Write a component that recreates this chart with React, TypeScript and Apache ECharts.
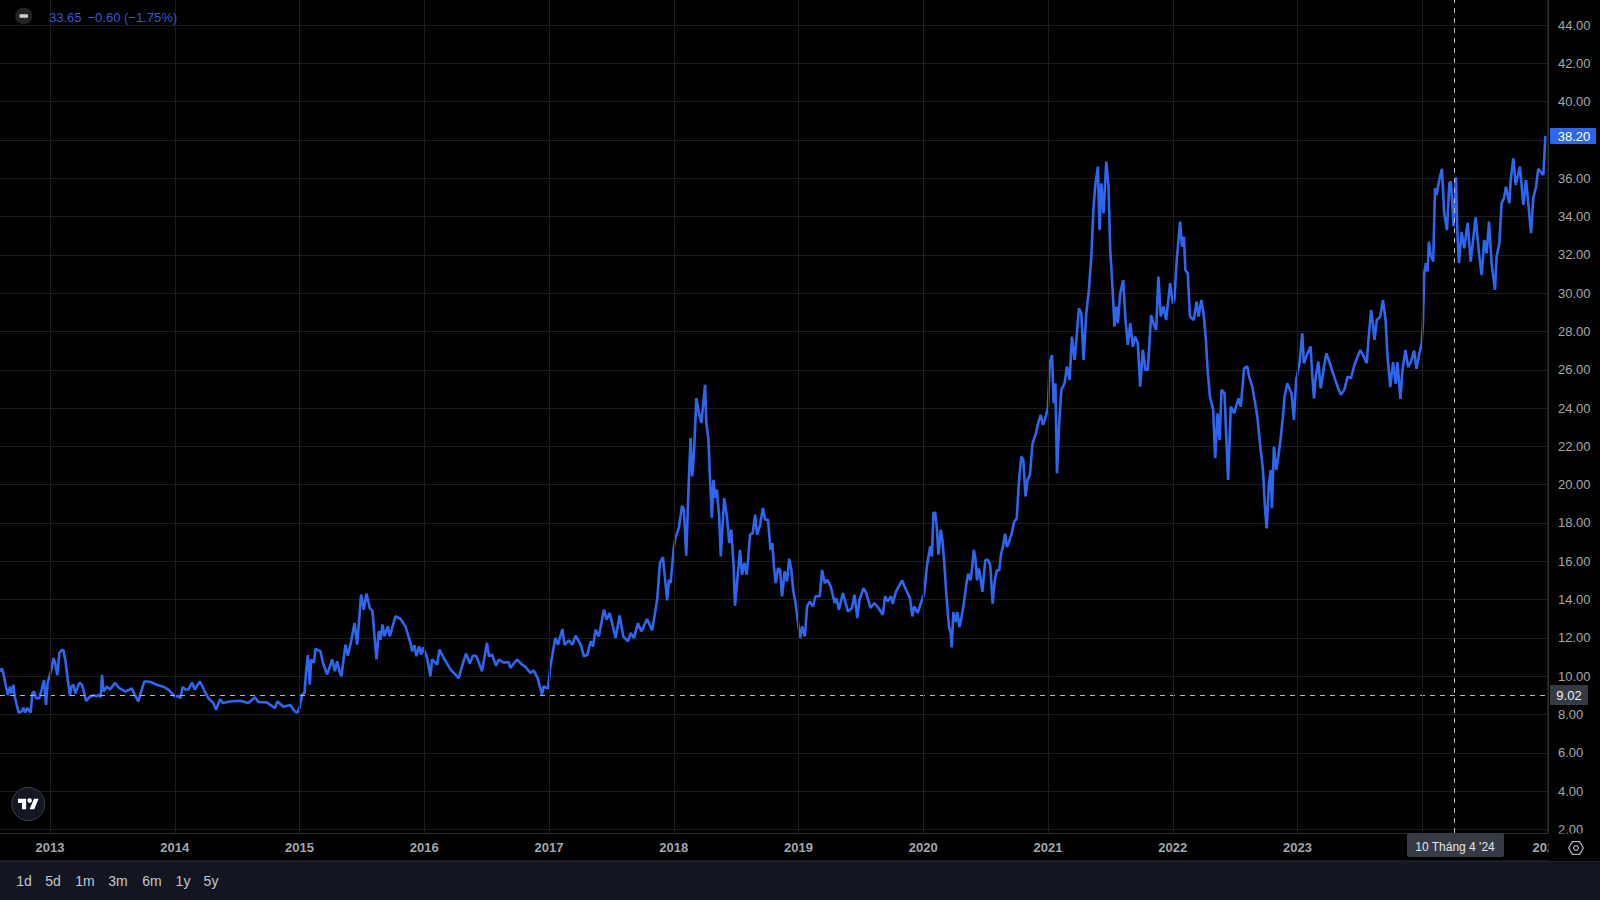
import React, { useEffect, useRef } from "react";
import * as echarts from "echarts";

type P = [number, number];

const span2012: P[] = [[2012.599,10.24],[2012.615,10.4],[2012.626,10.15],[2012.647,9.45],[2012.663,9.0],[2012.679,9.45],[2012.69,9.1],[2012.706,9.55],[2012.717,8.95],[2012.733,8.5],[2012.749,8.1],[2012.773,8.15],[2012.786,8.35],[2012.8,8.1],[2012.818,8.33],[2012.845,8.1],[2012.858,9.1],[2012.872,9.2],[2012.888,8.85],[2012.914,8.85],[2012.933,9.3],[2012.952,9.8],[2012.968,8.5],[2012.981,9.65]];
const span2013: P[] = [[2013.013,10.4],[2013.027,10.95],[2013.04,10.7],[2013.059,10.05],[2013.075,11.2],[2013.094,11.37],[2013.107,11.37],[2013.123,10.85],[2013.142,9.8],[2013.16,8.97],[2013.171,9.45],[2013.187,9.55],[2013.203,9.1],[2013.235,9.65],[2013.257,9.55],[2013.278,9.0],[2013.289,8.7],[2013.315,8.9],[2013.347,9.0],[2013.374,8.95],[2013.395,9.03],[2013.406,8.9],[2013.417,10.07],[2013.428,9.2],[2013.454,9.45],[2013.481,9.3],[2013.521,9.65],[2013.556,9.37],[2013.601,9.2],[2013.641,9.3],[2013.655,9.37],[2013.681,9.0],[2013.708,8.68],[2013.735,9.3],[2013.756,9.72],[2013.788,9.72],[2013.815,9.67],[2013.855,9.55],[2013.908,9.45],[2013.949,9.3]];
const span2014: P[] = [[2014.002,8.93],[2014.029,8.97],[2014.045,8.85],[2014.063,9.43],[2014.085,9.3],[2014.109,9.3],[2014.138,9.67],[2014.16,9.3],[2014.202,9.72],[2014.234,9.29],[2014.269,8.85],[2014.309,8.6],[2014.331,8.25],[2014.363,8.8],[2014.384,8.6],[2014.443,8.68],[2014.523,8.72],[2014.59,8.6],[2014.643,8.9],[2014.67,8.65],[2014.737,8.63],[2014.804,8.33],[2014.822,8.68],[2014.87,8.4],[2014.924,8.5],[2014.964,8.15],[2014.983,8.1]];
const span2015: P[] = [[2015.0,8.35],[2015.021,9.04],[2015.04,9.13],[2015.053,10.26],[2015.067,11.1],[2015.083,9.55],[2015.093,10.87],[2015.115,10.7],[2015.128,11.42],[2015.168,11.3],[2015.187,10.7],[2015.222,10.08],[2015.262,10.87],[2015.283,10.26],[2015.302,10.78],[2015.32,10.26],[2015.336,10.0],[2015.368,11.65],[2015.387,11.07],[2015.414,11.82],[2015.441,12.78],[2015.462,11.65],[2015.494,14.26],[2015.515,13.47],[2015.537,14.3],[2015.563,13.56],[2015.585,13.4],[2015.601,12.09],[2015.617,10.87],[2015.636,12.35],[2015.649,11.9],[2015.665,12.7],[2015.681,12.08],[2015.708,12.6],[2015.724,12.08],[2015.769,13.13],[2015.809,13.0],[2015.849,12.6],[2015.889,11.74],[2015.903,11.3],[2015.921,11.62],[2015.937,11.04],[2015.959,11.56],[2015.975,11.13],[2015.991,11.5]];
const span2016: P[] = [[2016.023,10.95],[2016.049,10.0],[2016.063,10.87],[2016.103,10.6],[2016.122,11.39],[2016.156,10.95],[2016.21,10.35],[2016.25,10.08],[2016.276,9.9],[2016.311,10.7],[2016.335,11.18],[2016.365,10.66],[2016.391,11.08],[2016.418,11.04],[2016.463,10.26],[2016.503,11.74],[2016.519,11.04],[2016.543,11.13],[2016.575,10.55],[2016.597,10.87],[2016.637,10.7],[2016.677,10.74],[2016.69,10.43],[2016.744,10.87],[2016.784,10.6],[2016.81,10.5],[2016.85,10.17],[2016.877,10.3],[2016.909,9.9],[2016.944,9.04],[2016.957,9.47],[2016.992,9.35]];
const span2017: P[] = [[2017.011,10.52],[2017.051,12.0],[2017.072,11.65],[2017.091,12.09],[2017.107,12.46],[2017.125,11.64],[2017.16,11.87],[2017.187,11.64],[2017.213,12.11],[2017.254,11.64],[2017.28,11.03],[2017.307,11.12],[2017.334,11.82],[2017.352,11.55],[2017.374,12.42],[2017.4,12.08],[2017.44,13.47],[2017.462,12.95],[2017.486,13.3],[2017.534,11.99],[2017.566,13.17],[2017.595,12.08],[2017.633,11.82],[2017.654,12.25],[2017.681,11.99],[2017.713,12.77],[2017.739,12.34],[2017.787,12.98],[2017.827,12.39],[2017.867,13.99],[2017.889,15.91],[2017.913,16.22],[2017.947,13.96],[2017.961,15.03],[2017.974,14.86]];
const span2018: P[] = [[2018.0,16.69],[2018.013,17.21],[2018.04,17.73],[2018.067,18.9],[2018.081,18.69],[2018.1,16.29],[2018.121,20.26],[2018.135,22.43],[2018.148,20.43],[2018.162,21.65],[2018.181,24.52],[2018.202,23.74],[2018.221,23.22],[2018.237,24.26],[2018.251,25.22],[2018.261,23.22],[2018.278,22.35],[2018.288,20.78],[2018.305,18.26],[2018.318,20.26],[2018.332,19.3],[2018.345,19.74],[2018.364,18.34],[2018.377,16.25],[2018.404,19.3],[2018.426,18.34],[2018.445,16.95],[2018.461,17.65],[2018.48,15.73],[2018.491,13.68],[2018.507,14.86],[2018.531,16.6],[2018.547,15.3],[2018.566,15.91],[2018.585,15.3],[2018.612,17.39],[2018.633,17.47],[2018.652,18.43],[2018.668,17.39],[2018.693,17.91],[2018.714,18.78],[2018.733,18.17],[2018.755,18.17],[2018.776,16.6],[2018.79,16.95],[2018.803,15.73],[2018.817,14.86],[2018.836,15.64],[2018.852,15.55],[2018.868,14.17],[2018.889,15.47],[2018.908,14.95],[2018.925,16.13],[2018.943,15.55],[2018.957,14.51],[2018.976,13.82],[2018.997,12.77]];
const span2019: P[] = [[2019.013,11.99],[2019.029,12.6],[2019.051,12.08],[2019.069,13.64],[2019.09,13.9],[2019.117,13.64],[2019.136,14.17],[2019.17,14.17],[2019.189,15.55],[2019.21,14.86],[2019.231,15.03],[2019.258,14.69],[2019.29,13.82],[2019.303,14.08],[2019.324,13.47],[2019.356,14.34],[2019.396,13.38],[2019.428,13.56],[2019.449,14.25],[2019.471,13.03],[2019.489,13.99],[2019.521,14.6],[2019.543,14.34],[2019.577,13.56],[2019.609,13.82],[2019.641,13.56],[2019.676,13.21],[2019.694,14.17],[2019.715,13.9],[2019.742,14.17],[2019.755,13.77],[2019.782,14.43],[2019.83,15.0],[2019.862,14.51],[2019.894,14.08],[2019.912,13.12],[2019.928,13.64],[2019.955,13.3],[2019.981,13.82]];
const span2020: P[] = [[2020.008,14.34],[2020.029,15.73],[2020.056,16.78],[2020.069,16.25],[2020.082,18.52],[2020.095,18.55],[2020.108,17.82],[2020.122,16.34],[2020.14,17.65],[2020.153,17.12],[2020.167,16.08],[2020.188,13.99],[2020.206,12.6],[2020.22,12.25],[2020.228,11.5],[2020.241,13.35],[2020.259,12.83],[2020.272,13.35],[2020.291,12.57],[2020.307,13.09],[2020.325,13.79],[2020.346,14.83],[2020.36,15.35],[2020.378,15.0],[2020.391,15.6],[2020.405,16.6],[2020.418,16.14],[2020.431,15.0],[2020.445,15.62],[2020.458,15.18],[2020.474,14.4],[2020.497,16.05],[2020.519,16.08],[2020.537,15.79],[2020.556,13.79],[2020.572,14.92],[2020.59,15.53],[2020.609,15.53],[2020.622,16.31],[2020.638,16.75],[2020.656,17.44],[2020.67,16.75],[2020.691,17.09],[2020.709,17.44],[2020.728,18.05],[2020.749,18.23],[2020.77,20.42],[2020.786,21.47],[2020.802,21.29],[2020.82,19.38],[2020.836,20.25],[2020.855,20.51],[2020.876,22.16],[2020.903,22.68],[2020.921,23.2],[2020.942,23.64],[2020.96,23.12],[2020.982,23.55]];
const span2021: P[] = [[2021.0,24.08],[2021.013,26.34],[2021.032,26.77],[2021.045,24.25],[2021.059,25.3],[2021.072,20.6],[2021.088,23.03],[2021.107,24.95],[2021.133,25.3],[2021.152,26.17],[2021.173,25.47],[2021.192,27.73],[2021.213,26.51],[2021.232,27.91],[2021.248,29.21],[2021.267,28.95],[2021.285,26.51],[2021.307,28.95],[2021.328,30.17],[2021.347,31.91],[2021.365,34.52],[2021.381,35.74],[2021.4,36.61],[2021.413,33.3],[2021.427,35.74],[2021.445,34.17],[2021.467,36.87],[2021.485,35.56],[2021.499,32.26],[2021.515,30.52],[2021.533,28.25],[2021.547,29.3],[2021.56,28.43],[2021.579,30.0],[2021.603,30.69],[2021.621,28.6],[2021.64,27.3],[2021.659,28.43],[2021.68,27.2],[2021.699,27.73],[2021.72,27.38],[2021.739,25.12],[2021.76,27.04],[2021.781,26.0],[2021.8,26.0],[2021.827,28.86],[2021.845,28.43],[2021.867,28.08],[2021.885,30.87],[2021.904,28.78],[2021.925,29.3],[2021.947,28.6],[2021.979,30.52]];
const span2022: P[] = [[2022.0,29.47],[2022.013,29.65],[2022.032,31.74],[2022.059,33.74],[2022.074,32.43],[2022.09,32.95],[2022.101,31.21],[2022.12,31.04],[2022.138,28.78],[2022.168,28.6],[2022.191,29.56],[2022.207,28.78],[2022.229,29.65],[2022.247,28.95],[2022.266,27.56],[2022.279,26.0],[2022.298,24.6],[2022.324,23.9],[2022.34,21.38],[2022.359,23.73],[2022.375,22.34],[2022.391,24.95],[2022.415,24.77],[2022.431,22.16],[2022.444,20.25],[2022.465,24.08],[2022.492,23.73],[2022.527,24.51],[2022.545,24.08],[2022.572,26.08],[2022.598,26.17],[2022.612,25.64],[2022.638,25.12],[2022.66,24.25],[2022.678,23.55],[2022.705,21.81],[2022.723,20.77],[2022.739,18.85],[2022.753,17.72],[2022.771,20.07],[2022.785,20.77],[2022.795,18.77],[2022.811,21.99],[2022.83,20.77],[2022.846,21.47],[2022.864,22.34],[2022.883,23.55],[2022.896,24.6],[2022.918,25.3],[2022.952,24.77],[2022.971,23.38],[2022.989,25.47]];
const span2023: P[] = [[2023.0,25.82],[2023.016,26.34],[2023.038,27.9],[2023.051,26.34],[2023.07,26.69],[2023.105,27.21],[2023.119,25.64],[2023.132,24.51],[2023.146,25.64],[2023.167,26.43],[2023.186,25.03],[2023.213,26.17],[2023.232,26.86],[2023.259,26.34],[2023.294,25.64],[2023.321,25.12],[2023.348,24.69],[2023.375,24.95],[2023.402,25.64],[2023.429,25.56],[2023.456,26.25],[2023.482,26.69],[2023.504,27.03],[2023.531,26.69],[2023.555,26.34],[2023.571,27.73],[2023.59,29.12],[2023.604,28.43],[2023.617,27.56],[2023.636,28.6],[2023.663,28.78],[2023.685,29.65],[2023.706,28.6],[2023.72,26.86],[2023.744,25.09],[2023.766,26.4],[2023.787,25.27],[2023.801,26.4],[2023.825,24.48],[2023.841,25.96],[2023.865,27.04],[2023.887,26.14],[2023.908,26.4],[2023.935,27.0],[2023.954,26.05],[2023.976,26.83],[2023.995,27.36]];
const span2024: P[] = [[2024.005,28.4],[2024.016,31.04],[2024.029,31.56],[2024.043,31.13],[2024.053,32.69],[2024.067,32.0],[2024.088,31.65],[2024.102,35.48],[2024.115,35.13],[2024.136,35.91],[2024.158,36.49],[2024.176,34.17],[2024.198,33.3],[2024.217,35.74],[2024.23,35.83],[2024.251,33.48],[2024.27,36.05],[2024.281,33.3],[2024.294,31.56],[2024.316,33.2],[2024.337,32.34],[2024.364,33.68],[2024.388,31.65],[2024.428,33.96],[2024.455,32.08],[2024.476,30.95],[2024.497,32.78],[2024.516,32.08],[2024.535,33.74],[2024.556,31.56],[2024.583,30.17],[2024.596,31.91],[2024.618,32.6],[2024.636,34.69],[2024.655,34.96],[2024.671,35.56],[2024.698,34.69],[2024.709,35.91],[2024.73,37.04],[2024.749,35.65],[2024.783,36.61],[2024.81,34.61],[2024.832,35.91],[2024.85,34.69],[2024.872,33.13],[2024.89,34.96],[2024.912,35.56],[2024.93,36.49],[2024.971,36.17],[2024.987,38.2]];

const priceSeries: P[] = [...span2012, ...span2013, ...span2014, ...span2015, ...span2016, ...span2017, ...span2018, ...span2019, ...span2020, ...span2021, ...span2022, ...span2023, ...span2024];

const yearTicks = [2013, 2014, 2015, 2016, 2017, 2018, 2019, 2020, 2021, 2022, 2023, 2024, 2025];
const yearLabels = [2013, 2014, 2015, 2016, 2017, 2018, 2019, 2020, 2021, 2022, 2023, 2025];
const priceTicks = [2, 4, 6, 8, 10, 12, 14, 16, 18, 20, 22, 24, 26, 28, 30, 32, 34, 36, 38, 40, 42, 44];
const priceLabels = [2, 4, 6, 8, 10, 12, 14, 16, 18, 20, 22, 24, 26, 28, 30, 32, 34, 36, 40, 42, 44];
const crossPrice = 9.02;
const crossYear = 2024.262;
const ranges = [["1d", 24], ["5d", 53], ["1m", 85], ["3m", 118], ["6m", 152], ["1y", 183], ["5y", 211]] as const;

const FONT = '"Liberation Sans", Arial, sans-serif';
const LOGO = "M14 22H7V11H0V4h14v18zM28 22h-8l7.5-18h8L28 22zM24 7a4 4 0 1 1-8 0a4 4 0 0 1 8 0z";

export default function App() {
  const ref = useRef<HTMLDivElement>(null);
  useEffect(() => {
    document.body.style.margin = "0";
    document.body.style.background = "#000";
    echarts.graphic.registerShape("tvlogo", echarts.graphic.extendPath(LOGO, {}) as any);
    const chart = echarts.init(ref.current!, undefined, { renderer: "svg" });
    chart.setOption({
      animation: false,
      backgroundColor: "#000000",
      grid: { left: 0, top: 0, width: 1548, height: 833, containLabel: false },
      xAxis: {
        type: "value",
        min: 2012.599,
        max: 2025.008,
        z: 200,
        axisLine: { show: true, onZero: false, lineStyle: { color: "#2e2e2e", width: 1 } },
        axisTick: { show: false, customValues: yearTicks },
        axisLabel: {
          customValues: yearLabels,
          formatter: (v: number) => String(v),
          color: "#a3a6ad",
          fontFamily: FONT,
          fontSize: 13,
          fontWeight: "bold",
          margin: 8,
        },
        splitLine: { show: true, lineStyle: { color: "#1c1c1c", width: 1 } },
      },
      yAxis: {
        type: "value",
        position: "right",
        min: 1.81,
        max: 45.31,
        axisLine: { show: true, onZero: false, lineStyle: { color: "#2e2e2e", width: 1 } },
        axisTick: { show: false, customValues: priceTicks },
        axisLabel: {
          customValues: priceLabels,
          formatter: (v: number) => v.toFixed(2),
          color: "#a8a8a8",
          fontFamily: FONT,
          fontSize: 13,
          margin: 10,
        },
        splitLine: { show: true, lineStyle: { color: "#1c1c1c", width: 1 } },
      },
      series: [
        {
          type: "line",
          data: priceSeries,
          showSymbol: false,
          smooth: false,
          lineStyle: { color: "#2f66f0", width: 2.6 },
          markLine: {
            silent: true,
            symbol: "none",
            label: { show: false },
            lineStyle: { color: "#b4b6bc", type: [5, 5], width: 1 },
            data: [{ yAxis: crossPrice }, { xAxis: crossYear }],
          },
        },
      ],
      graphic: [
        { type: "rect", z: 100, shape: { x: 0, y: 833.5, width: 1548, height: 27.5 }, style: { fill: "#000" } },
        { type: "rect", z: 300, shape: { x: 1548.5, y: 833.5, width: 52, height: 27.5 }, style: { fill: "#000" } },
        { type: "rect", z: 100, shape: { x: 0, y: 861, width: 1600, height: 39 }, style: { fill: "#131620" } },
        { type: "line", z: 100, shape: { x1: 0, y1: 861, x2: 1600, y2: 861 }, style: { stroke: "#2a2e39", lineWidth: 1 } },
        ...ranges.map(([t, x]) => ({
          type: "text", z: 300, x, y: 881,
          style: { text: t, fill: "#c4c7cf", font: `14px ${FONT}`, textAlign: "center", textVerticalAlign: "middle" },
        })),
        { type: "rect", z: 400, shape: { x: 1407, y: 833, width: 97, height: 24, r: 2 }, style: { fill: "#363a45" } },
        {
          type: "text", z: 401, x: 1455, y: 847,
          style: { text: "10 Tháng 4 '24", fill: "#e4e5e8", font: `12px ${FONT}`, textAlign: "center", textVerticalAlign: "middle" },
        },
        { type: "rect", z: 400, shape: { x: 1550, y: 128, width: 46, height: 16, r: 1 }, style: { fill: "#2f66f0" } },
        {
          type: "text", z: 401, x: 1574, y: 136.5,
          style: { text: "38.20", fill: "#ffffff", font: `13px ${FONT}`, textAlign: "center", textVerticalAlign: "middle" },
        },
        { type: "rect", z: 400, shape: { x: 1550, y: 685, width: 38, height: 20, r: 1 }, style: { fill: "#363a45" } },
        {
          type: "text", z: 401, x: 1569, y: 695.5,
          style: { text: "9.02", fill: "#f0f0f2", font: `13px ${FONT}`, textAlign: "center", textVerticalAlign: "middle" },
        },
        { type: "circle", z: 400, shape: { cx: 23.7, cy: 16, r: 8.5 }, style: { fill: "#232323" } },
        { type: "rect", z: 401, shape: { x: 19.5, y: 14.3, width: 8.5, height: 3.4, r: 1 }, style: { fill: "#d0d0d0" } },
        {
          type: "text", z: 401, x: 49, y: 17,
          style: { text: "33.65", fill: "#3f55c8", font: `13px ${FONT}`, textAlign: "left", textVerticalAlign: "middle" },
        },
        {
          type: "text", z: 401, x: 87.5, y: 17,
          style: { text: "−0.60 (−1.75%)", fill: "#3f55c8", font: `13px ${FONT}`, textAlign: "left", textVerticalAlign: "middle" },
        },
        { type: "circle", z: 400, shape: { cx: 28.3, cy: 804, r: 16.5 }, style: { fill: "#131722", stroke: "#3a3e4a", lineWidth: 1 } },
        { type: "tvlogo", z: 401, x: 18, y: 796.5, scaleX: 0.58, scaleY: 0.58, style: { fill: "#ffffff" } },
        {
          type: "polygon", z: 401,
          shape: { points: [[1568.7, 848], [1572.3, 841.6], [1579.7, 841.6], [1583.3, 848], [1579.7, 854.4], [1572.3, 854.4]] },
          style: { fill: "none", stroke: "#b2b5be", lineWidth: 1.2 },
        },
        { type: "circle", z: 401, shape: { cx: 1576, cy: 848, r: 2.4 }, style: { fill: "none", stroke: "#b2b5be", lineWidth: 1.2 } },
      ],
    });
    return () => chart.dispose();
  }, []);
  return <div ref={ref} style={{ position: "absolute", left: 0, top: 0, width: 1600, height: 900 }} />;
}
